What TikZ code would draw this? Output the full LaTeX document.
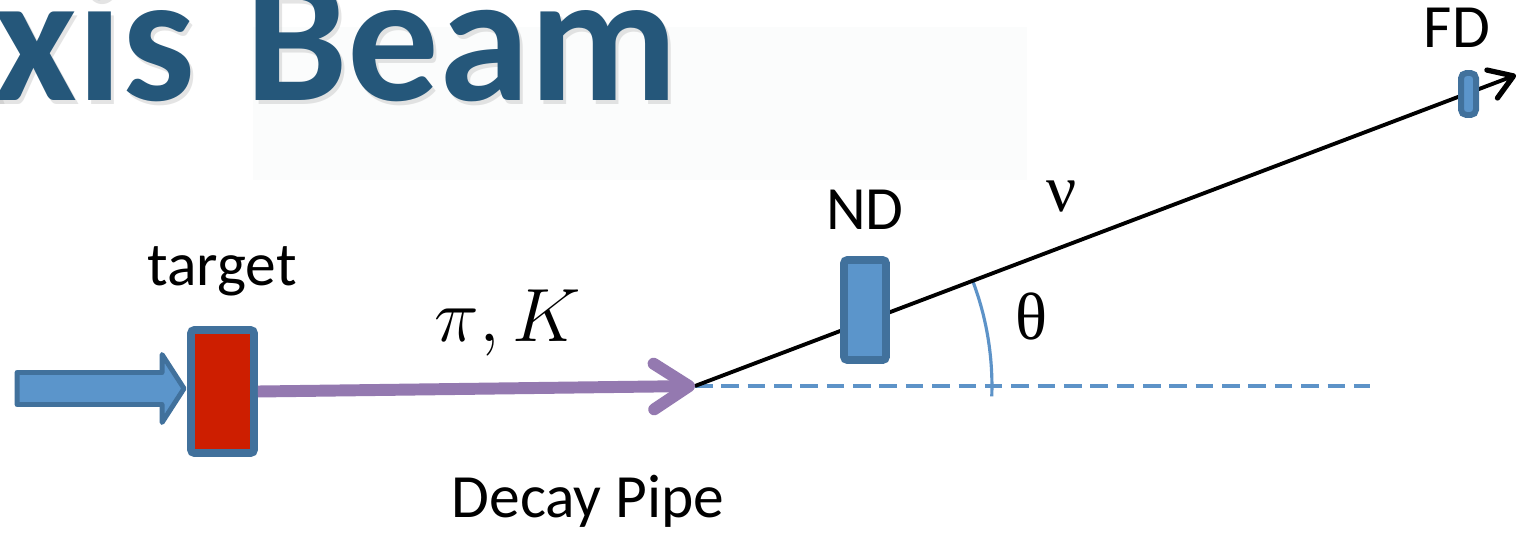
\documentclass[tikz,border=0pt]{standalone}
\usepackage{fix-cm}
\usepackage{fontspec}
\setmainfont{Carlito}
\newfontfamily\serifgr{Liberation Serif}
\usetikzlibrary{arrows.meta,calc}
\definecolor{titleblue}{RGB}{37,87,122}
\definecolor{boxfill}{RGB}{91,149,203}
\definecolor{boxline}{RGB}{65,113,156}
\definecolor{tgtred}{RGB}{205,30,0}
\definecolor{pipepurple}{RGB}{148,121,176}
\definecolor{axisblue}{RGB}{93,147,200}
\definecolor{faint}{RGB}{251,252,252}
\tikzset{
  lbl/.style={font=\fontsize{35}{40}\selectfont, inner sep=0pt, anchor=base},
  greek/.style={font=\serifgr\fontsize{38}{44}\selectfont, inner sep=0pt, anchor=base},
  detbox/.style={draw=boxline, fill=boxfill, line width=4.5pt, rounded corners=2pt, inner sep=0pt},
  blockarrow/.style={draw=boxline, fill=boxfill, line width=2.8pt, line join=round},
  pipe/.style={pipepurple, line width=6.8pt, -{Straight Barb[length=20pt,width=26pt,round]}},
  nuline/.style={black, line width=2.2pt, -{Straight Barb[length=13pt,width=17pt,round,line width=3pt]}},
  axisline/.style={axisblue, line width=2pt, dash pattern=on 10pt off 5pt},
  titletext/.style={anchor=base west, inner sep=0pt, font=\bfseries\fontsize{104}{110}\selectfont}
}
\begin{document}
\begin{tikzpicture}[x=0.02cm, y=-0.02cm]
\clip (0,0) rectangle (1518,534);
\fill[white] (0,0) rectangle (1518,534);
\fill[faint] (253,27) rectangle (1027,180);
% title
\node[titletext, text=black!30, opacity=0.35] (titleshadow) at (-106,104) {A\kern-5pt xis\kern5pt\ Beam};
\node[titletext, text=titleblue] (title) at (-109,100) {A\kern-5pt xis\kern5pt\ Beam};
% coordinates
\coordinate (o) at (695,386);
\coordinate (fdtip) at (1516,75);
\coordinate (dashend) at (1370,386);
% target
\node[detbox, fill=tgtred, minimum width=1.26cm, minimum height=2.46cm] (target) at (222.5,391.5) {};
\draw[blockarrow] ($(target.west)+(-3,-3)$) -- ++(-22,-34) -- ++(0,18) -- ++(-145,0) -- ++(0,32) -- ++(145,0) -- ++(0,18) -- cycle;
% lines
\draw[axisline] (o) -- (dashend);
\draw[axisblue, line width=1.8pt] ($(o)+(20.75:5.94cm)$) arc[start angle=20.75, end angle=-2, radius=5.94cm];
\draw[nuline] (o) -- (fdtip);
\draw[pipe] (target.east) -- (o);
% detectors
\node[detbox, minimum width=0.84cm, minimum height=2cm] (nd) at (865,310) {};
\node[detbox, line width=3.4pt, rounded corners=3pt, minimum width=0.3cm, minimum height=0.84cm] (fd) at (1468.5,94) {};
% labels
\node[lbl] (tlabel) at (222,285) {target};
\node[lbl] (ndlabel) at (865,229) {ND};
\node[lbl] (fdlabel) at (1457,48) {FD};
\node[lbl] (pipelabel) at (588,517) {Decay Pipe};
\node[lbl, font=\fontsize{43}{48}\selectfont] (piK) at (508,341) {$\pi, K$};
\node[greek] (nu) at (1062,211) {ν};
\node[greek] (theta) at (1031,339) {θ};
\end{tikzpicture}
\end{document}
